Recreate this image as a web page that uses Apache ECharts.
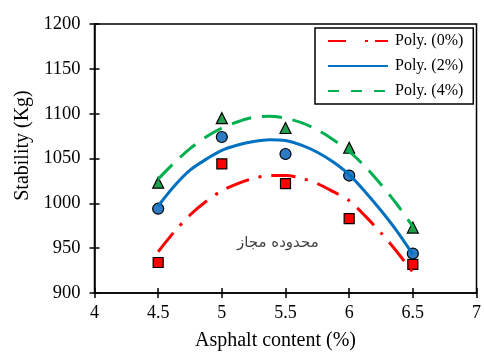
<!DOCTYPE html>
<html>
<head>
<meta charset="utf-8">
<script src="https://cdn.jsdelivr.net/npm/echarts@6/dist/echarts.min.js"></script>
<style>
  html, body { margin: 0; padding: 0; background: #fff; }
  #chart { width: 484px; height: 356px; }
</style>
</head>
<body>
<div id="chart"></div>
<script>
// measured points
const asphalt = [4.5, 5, 5.5, 6, 6.5]
const stab0 = [934, 1044, 1022, 983, 932]
const stab2 = [994, 1074, 1055, 1031, 944]
const stab4 = [1023, 1095, 1084, 1062, 973]

// trendlines, every 0.125
const trendX = [4.5, 4.625, 4.75, 4.875, 5, 5.125, 5.25, 5.375, 5.5, 5.625, 5.75, 5.875, 6, 6.125, 6.25, 6.375, 6.5]
const trend0 = [946, 968, 987, 1002, 1014, 1022, 1028, 1031, 1031, 1028, 1022, 1013, 1003, 986, 967, 946, 923]
const trend2 = [997, 1019, 1037, 1049, 1059, 1065, 1069, 1071, 1070, 1065, 1057, 1046, 1032, 1013, 992, 969, 943]
const trend4 = [1027, 1045, 1061, 1074, 1084, 1091, 1096, 1097, 1095, 1090, 1082, 1071, 1058, 1041, 1021, 999, 974]

const seriesNames = ['Poly. (0%)', 'Poly. (2%)', 'Poly. (4%)']
const noteText = 'محدوده مجاز'
const notePos = [5.44, 956]

const Serif = "'Liberation Serif', 'Times New Roman', serif"

function pairs(xs, ys) {
  return xs.map((x, i) => [x, ys[i]])
}

const chart = echarts.init(document.getElementById('chart'))

const baseX = { type: 'value', min: 4, max: 7, interval: 0.5 }
const baseY = { type: 'value', min: 900, max: 1200, interval: 50 }

chart.setOption({
  animation: false,
  grid: {
    left: 94.5,
    right: 4,
    top: 24,
    bottom: 63,
    show: true,
    borderColor: '#000',
    borderWidth: 1.5
  },
  legend: {
    orient: 'vertical',
    left: 315,
    top: 28,
    padding: [5, 10, 5, 12],
    itemGap: 9,
    itemWidth: 60,
    itemHeight: 14,
    borderColor: '#000',
    borderWidth: 1.5,
    backgroundColor: '#fff',
    itemStyle: { opacity: 0 },
    textStyle: { fontFamily: Serif, fontSize: 16, color: '#000', padding: [0, 0, 0, 2] },
    data: [
      { name: seriesNames[0], lineStyle: { type: [18, 19, 3, 7] } },
      { name: seriesNames[1] },
      { name: seriesNames[2], lineStyle: { type: [11, 12] } }
    ]
  },
  xAxis: [
    Object.assign({}, baseX, {
      position: 'bottom',
      name: 'Asphalt content (%)',
      nameLocation: 'middle',
      nameGap: 38,
      nameTextStyle: { fontFamily: Serif, fontSize: 20, color: '#000', padding: [0, 20, 0, 0] },
      axisLine: { lineStyle: { color: '#000', width: 1.5 } },
      axisTick: { length: 5, lineStyle: { color: '#000', width: 1.5 } },
      axisLabel: { fontFamily: Serif, fontSize: 18, color: '#000', margin: 11 },
      splitLine: { show: false }
    }),
    Object.assign({}, baseX, {
      position: 'bottom',
      axisLine: { show: false },
      axisTick: { inside: true, length: 5, lineStyle: { color: '#000', width: 1.5 } },
      axisLabel: { show: false },
      splitLine: { show: false }
    })
  ],
  yAxis: [
    Object.assign({}, baseY, {
      position: 'left',
      name: 'Stability (Kg)',
      nameLocation: 'middle',
      nameGap: 62,
      nameTextStyle: { fontFamily: Serif, fontSize: 20, color: '#000', padding: [0, 0, 0, 26] },
      axisLine: { show: true, lineStyle: { color: '#000', width: 1.5 } },
      axisTick: { show: true, length: 5, lineStyle: { color: '#000', width: 1.5 } },
      axisLabel: {
        fontFamily: Serif, fontSize: 18.5, color: '#000', margin: 14,
        formatter: v => String(v)
      },
      splitLine: { show: false }
    }),
    Object.assign({}, baseY, {
      position: 'left',
      axisLine: { show: false },
      axisTick: { show: true, inside: true, length: 5, lineStyle: { color: '#000', width: 1.5 } },
      axisLabel: { show: false },
      splitLine: { show: false }
    })
  ],
  series: [
    {
      name: seriesNames[0],
      type: 'line',
      smooth: 0.3,
      symbol: 'none',
      lineStyle: { color: '#FF0000', width: 3, type: [24, 10, 3, 10] },
      itemStyle: { color: '#FF0000' },
      data: pairs(trendX, trend0)
    },
    {
      name: seriesNames[1],
      type: 'line',
      smooth: 0.3,
      symbol: 'none',
      lineStyle: { color: '#0070C0', width: 3, type: 'solid' },
      itemStyle: { color: '#0070C0' },
      data: pairs(trendX, trend2)
    },
    {
      name: seriesNames[2],
      type: 'line',
      smooth: 0.3,
      symbol: 'none',
      lineStyle: { color: '#00B050', width: 3, type: [20, 11] },
      itemStyle: { color: '#00B050' },
      data: pairs(trendX, trend4)
    },
    {
      name: 'pts0',
      type: 'scatter',
      symbol: 'rect',
      symbolSize: 10,
      itemStyle: { color: '#FF0000', borderColor: '#000', borderWidth: 1.2, opacity: 1 },
      data: pairs(asphalt, stab0)
    },
    {
      name: 'pts2',
      type: 'scatter',
      symbol: 'circle',
      symbolSize: 11,
      itemStyle: { color: '#2E7BC4', borderColor: '#000', borderWidth: 1.2, opacity: 1 },
      data: pairs(asphalt, stab2)
    },
    {
      name: 'pts4',
      type: 'scatter',
      symbol: 'triangle',
      symbolSize: 11,
      itemStyle: { color: '#1FA04A', borderColor: '#000', borderWidth: 1.2, opacity: 1 },
      data: pairs(asphalt, stab4)
    },
    {
      name: 'note',
      type: 'scatter',
      silent: true,
      symbolSize: 0,
      label: {
        show: true,
        position: 'inside',
        formatter: noteText,
        fontFamily: "'DejaVu Sans', sans-serif",
        fontSize: 15,
        color: '#111'
      },
      data: [notePos]
    }
  ]
})
</script>
</body>
</html>
